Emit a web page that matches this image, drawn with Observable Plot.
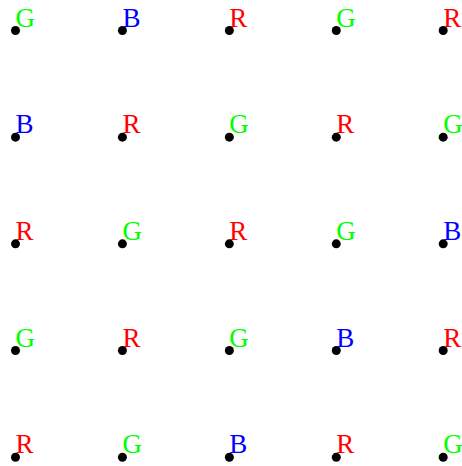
<!DOCTYPE html>
<html>
<head>
<meta charset="utf-8">
<script src="https://cdn.jsdelivr.net/npm/d3@7"></script>
<script src="https://cdn.jsdelivr.net/npm/@observablehq/plot@0.6"></script>
<style>
  html, body { margin: 0; padding: 0; background: #fff; }
  #chart svg { display: block; }
</style>
</head>
<body>
<div id="chart"></div>
<script>
const columns = [0, 1, 2, 3, 4];
const rows = [0, 1, 2, 3, 4];
const labels = [
  ["G", "B", "R", "G", "R"],
  ["B", "R", "G", "R", "G"],
  ["R", "G", "R", "G", "B"],
  ["G", "R", "G", "B", "R"],
  ["R", "G", "B", "R", "G"]
];
const letterColors = {R: "#ff0000", G: "#00ff00", B: "#0000ff"};

const points = [];
rows.forEach(r => columns.forEach(c => points.push({col: c, row: r, label: labels[r][c]})));

const chart = Plot.plot({
  width: 462,
  height: 466,
  margin: 0,
  x: {domain: [0, 4], range: [15, 442.7], axis: null},
  y: {domain: [0, 4], range: [30, 456.7], axis: null},
  marks: [
    Plot.dot(points, {x: "col", y: "row", r: 4.5, fill: "black", stroke: "none"}),
    Plot.text(points, {
      x: "col", y: "row", text: "label",
      fill: d => letterColors[d.label],
      textAnchor: "start", lineAnchor: "bottom",
      dx: 0, dy: -4,
      fontSize: 27,
      fontFamily: "Liberation Serif, serif"
    })
  ]
});
document.getElementById("chart").appendChild(chart);
</script>
</body>
</html>
